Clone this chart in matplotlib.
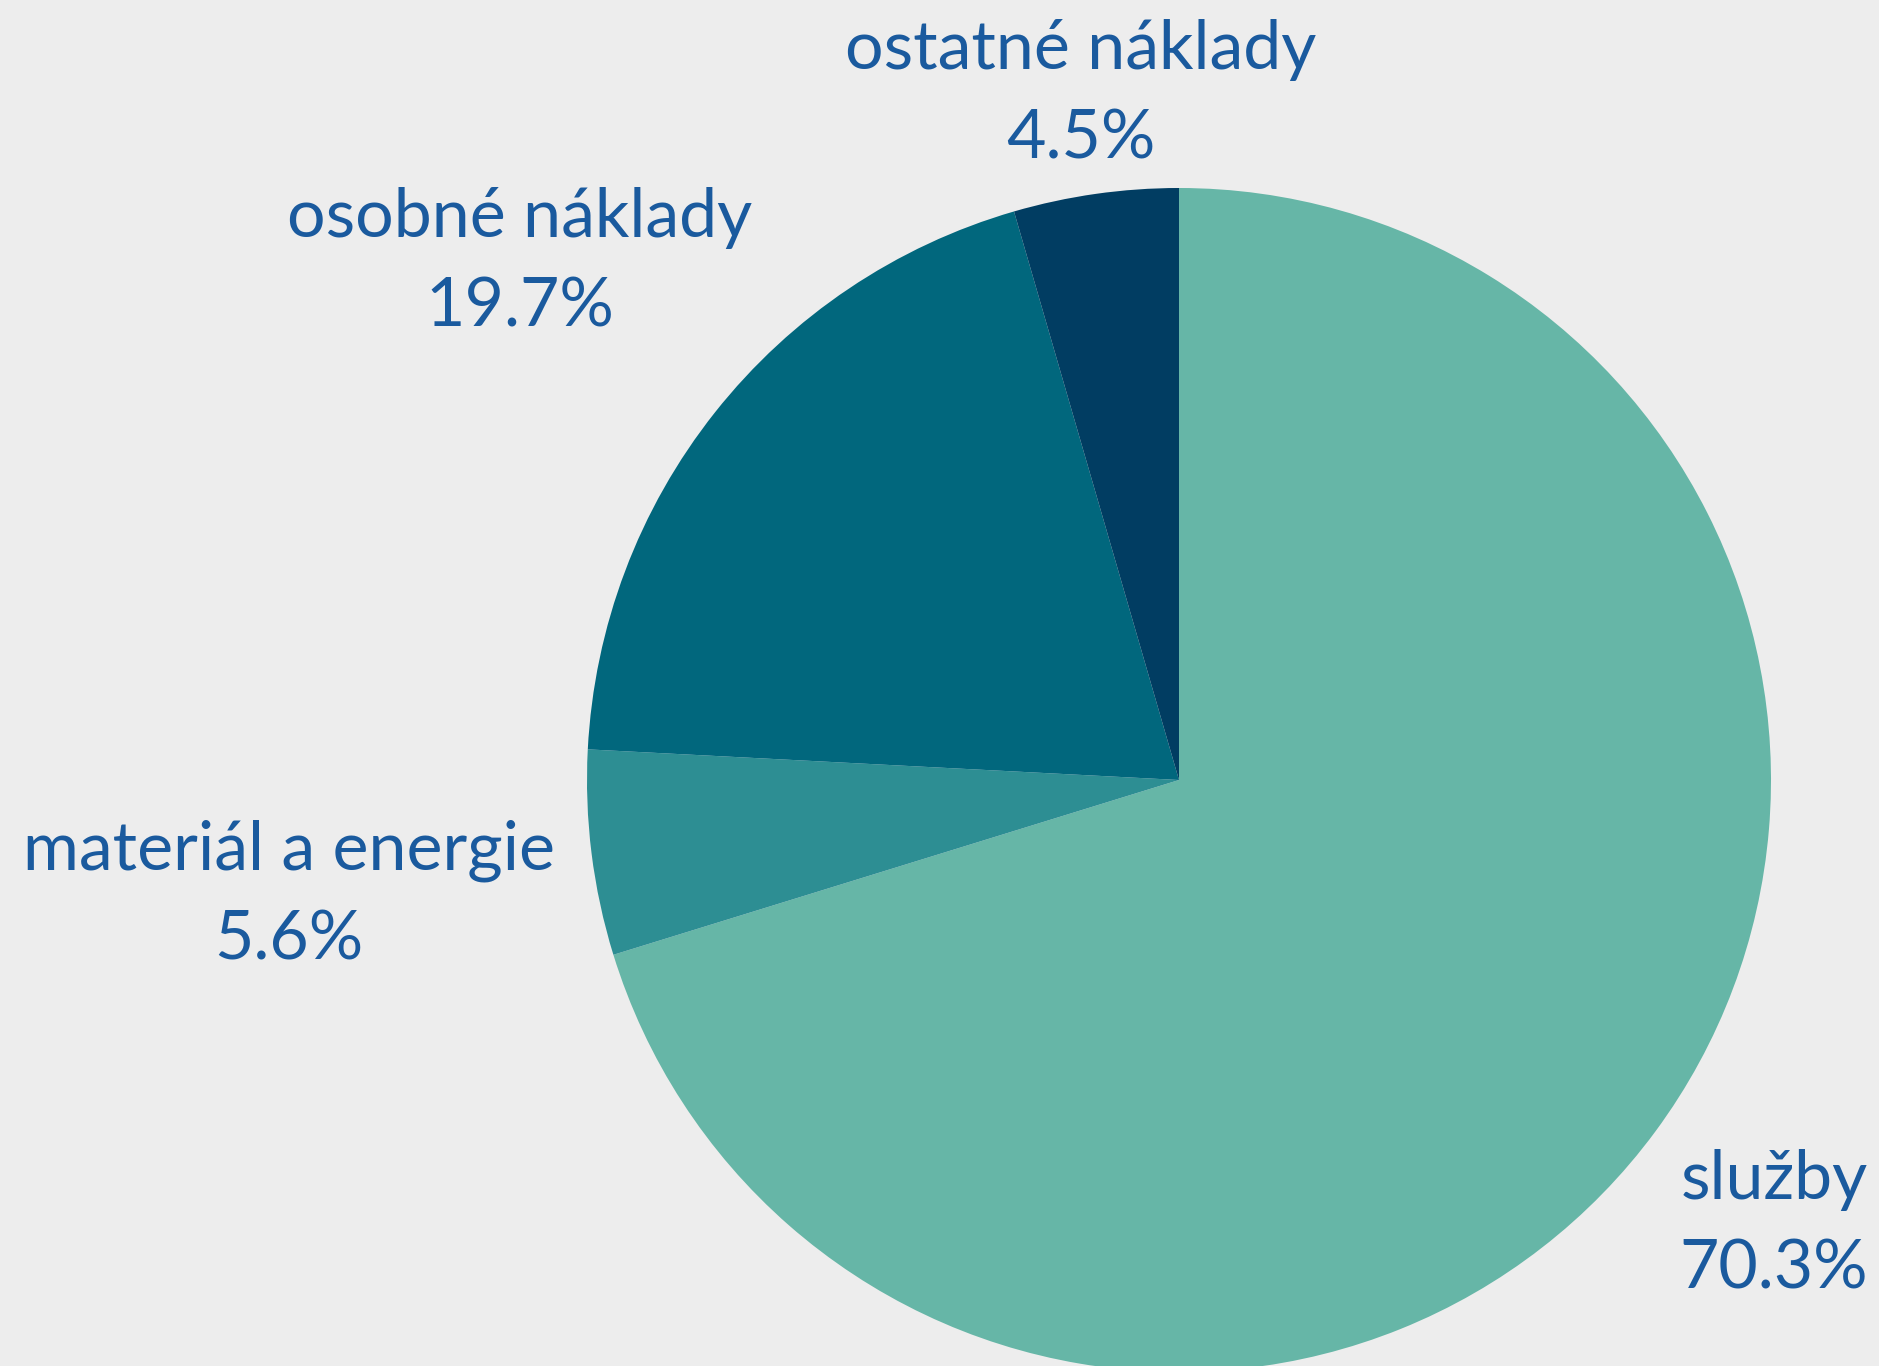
"""Pie chart of cost structure"""

import matplotlib.pyplot as plt

# Data
categories = ["služby", "materiál a energie", "osobné náklady", "ostatné náklady"]
shares = [70.3, 5.6, 19.7, 4.5]
share_labels = ["70.3%", "5.6%", "19.7%", "4.5%"]

colors = ["#66b6a7", "#2d8e93", "#01677d", "#013d62"]
bg = "#ededed"
text_color = "#1a5a9e"

W, H = 1879, 1366
fig = plt.figure(figsize=(W / 100, H / 100), dpi=100, facecolor=bg)
ax = fig.add_axes([0, 0, 1, 1])
ax.set_facecolor(bg)

ax.pie(
    shares,
    colors=colors,
    startangle=90,
    counterclock=False,
    center=(1179, H - 780),
    radius=592,
    wedgeprops={"linewidth": 0},
)
ax.set_xlim(0, W)
ax.set_ylim(0, H)
ax.set_aspect("equal")
ax.axis("off")

# label positions in pixels (x, y from top)
label_pos = [(1774, 1225), (289, 895), (520, 263), (1081, 95)]
for cat, lab, (x, y) in zip(categories, share_labels, label_pos):
    ax.text(
        x, H - y, cat + "\n" + lab,
        ha="center", va="center", color=text_color,
        fontsize=49, family="Lato", linespacing=1.55,
    )

plt.savefig("out.png", dpi=100, facecolor=bg)
